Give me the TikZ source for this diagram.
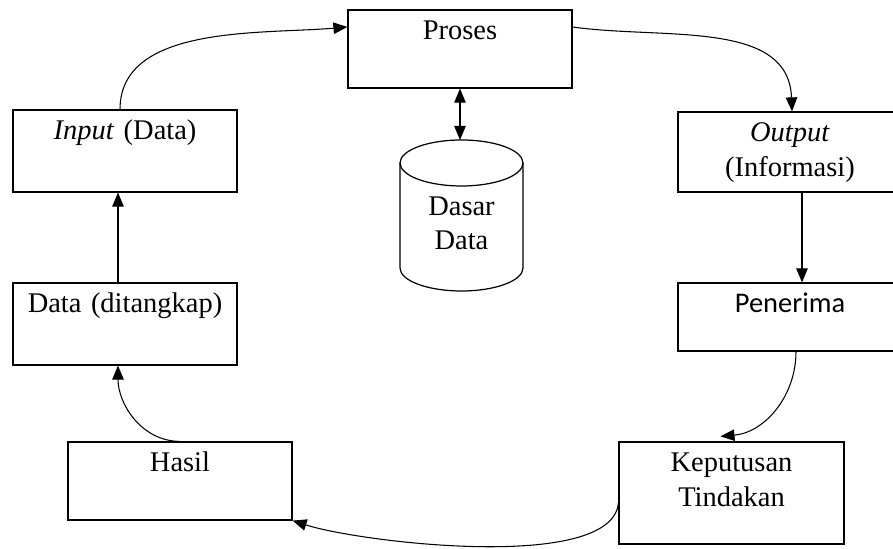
\documentclass[tikz,border=0pt]{standalone}
\usepackage{fontspec}
\setmainfont{Liberation Serif}
\newfontfamily\calfont{Carlito}
\usepackage{tikz}
\usetikzlibrary{arrows.meta}

\begin{document}
\begin{tikzpicture}[
  font=\fontsize{16.2}{19.4}\selectfont,
  >={Triangle[length=2.8mm, width=2.3mm]},
  line width=0.7pt,
  sbox/.style={draw, align=center, text width=4.28cm, inner xsep=0.1cm,
               inner ysep=0.15cm, text height=0.45cm, text depth=#1},
  link/.style={->, line width=0.6pt},
]
  \useasboundingbox (0,0) rectangle (17.86,10.98);
  \clip (0,0) rectangle (17.86,10.98);
  % boxes of the cycle
  \node[sbox=0.81cm] (proses) at (9.2, 10.0) {Proses};
  \node[sbox=0.89cm] (input) at (2.5, 7.96) {\textit{Input} (Data)};
  \node[sbox=0.85cm] (output) at (15.8, 7.94) {\textit{Output}\\(Informasi)};
  \node[sbox=0.61cm] (penerima) at (15.8, 4.64) {\calfont Penerima};
  \node[sbox=1.29cm, text width=4.3cm] (keputusan) at (14.63, 1.12) {Keputusan\\Tindakan};
  \node[sbox=0.81cm] (hasil) at (3.6, 1.36) {Hasil};
  \node[sbox=0.89cm] (data) at (2.5, 4.5) {Data (ditangkap)};
  % database cylinder
  \begin{scope}[shift={(9.23,7.72)}]
    \draw (-1.23,0) -- (-1.23,-2.1) arc[start angle=180, end angle=360, x radius=1.23, y radius=0.46] -- (1.23,0);
    \draw (0,0) ellipse[x radius=1.23, y radius=0.46];
  \end{scope}
  \coordinate (dbtop) at (9.2, 8.18);
  \node[align=center] (db) at (9.23, 6.52) {Dasar\\Data};
  % connectors
  \draw[link] ([xshift=-0.1cm]input.north) to[out=90, in=185, looseness=0.9] ([yshift=0.44cm]proses.west);
  \draw[link] ([yshift=0.44cm]proses.east) to[out=-8, in=92] ([xshift=0.04cm]output.north);
  \draw[<->, line width=0.6pt] (proses.south) -- (dbtop);
  \draw[link] ([xshift=0.24cm]output.south) -- ([xshift=0.24cm]penerima.north);
  \draw[link] ([xshift=0.12cm]penerima.south) to[out=-90, in=5] ([xshift=-0.22cm, yshift=0.1cm]keputusan.north);
  \draw[link] ([yshift=-0.2cm]keputusan.west) to[out=-95, in=-18, looseness=0.55] (hasil.south east);
  \draw[link] (hasil.north) to[out=180, in=-90] ([xshift=-0.14cm]data.south);
  \draw[link] ([xshift=-0.14cm]data.north) -- ([xshift=-0.14cm]input.south);
\end{tikzpicture}
\end{document}
